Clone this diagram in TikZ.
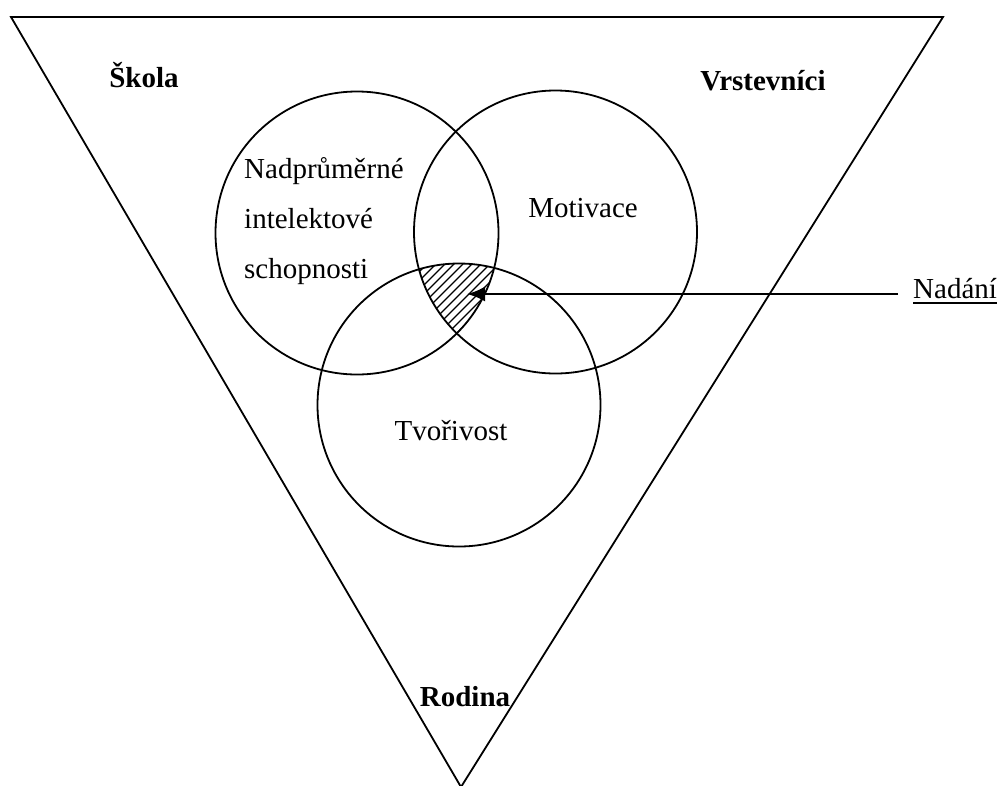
\documentclass[tikz,border=0pt]{standalone}
\usepackage{fontspec}
\setmainfont{Liberation Serif}
\usetikzlibrary{arrows.meta}
\begin{document}
\begin{tikzpicture}[x=1pt,y=-1pt,
  outline/.style={line width=1.8pt},
  lbl/.style={font=\fontsize{29}{50}\selectfont, inner sep=0pt, anchor=base},
  blbl/.style={lbl, font=\fontsize{29}{50}\selectfont\bfseries},
  hatch/.style={line width=1.2pt},
  pointer/.style={line width=2.4pt, -{Latex[length=18pt,width=15pt]}}]
\useasboundingbox (0,0) rectangle (1000,785);
\coordinate (ci) at (357,233);
\coordinate (cm) at (555.5,232);
\coordinate (ct) at (459,405);
\begin{scope}
\clip (0,0) rectangle (1000,785);
\draw[outline] (11,17) -- (943,17) -- (461,787) -- cycle;
\end{scope}
\begin{scope}
\clip (ci) circle[radius=141.5pt];
\clip (cm) circle[radius=141.5pt];
\clip (ct) circle[radius=141.5pt];
\foreach \c in {250,259,...,560} \draw[hatch] (\c,360) -- ++(160,-160);
\end{scope}
\draw[outline] (ci) circle[radius=141.5pt];
\draw[outline] (cm) circle[radius=141.5pt];
\draw[outline] (ct) circle[radius=141.5pt];
\node[blbl] (skola) at (144,87) {Škola};
\node[blbl] (vrst) at (763,90) {Vrstevníci};
\node[blbl] (rodina) at (465,706) {Rodina};
\node[lbl, anchor=base west, align=left] (intel) at (244,278) {Nadprůměrné\\intelektové\\schopnosti};
\node[lbl] (motiv) at (583,217) {Motivace};
\node[lbl] (tvor) at (451,440) {Tvořivost};
\node[lbl, anchor=base west] (nadani) at (913,298) {Nadání};
\draw[line width=1.6pt] ([yshift=-5pt]nadani.base west) -- ([yshift=-5pt]nadani.base east);
\coordinate (tip) at (467,294);
\draw[pointer, shorten <=15pt] (tip -| nadani.west) -- (tip);
\end{tikzpicture}
\end{document}
